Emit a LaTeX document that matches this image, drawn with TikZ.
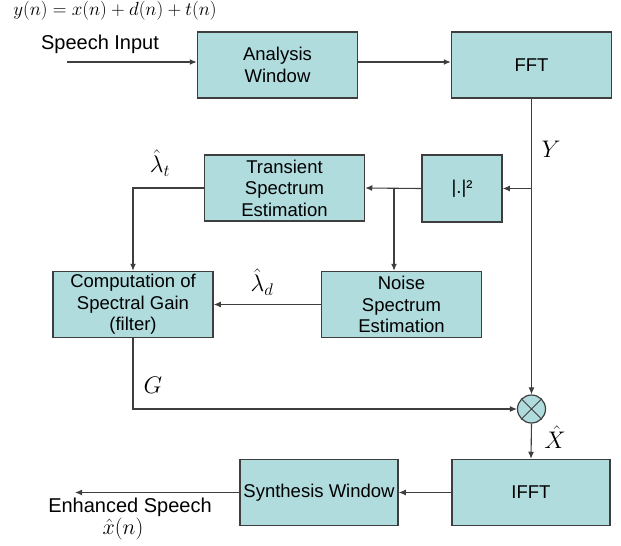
\documentclass[tikz,border=0pt]{standalone}
\usepackage{fix-cm}
\usepackage{fontspec}
\setmainfont{Liberation Sans}
\usetikzlibrary{arrows.meta}
\definecolor{boxfill}{RGB}{176,220,222}
\definecolor{boxedge}{RGB}{62,62,62}
\tikzset{
  blk/.style={draw=boxedge,line width=1.5pt,fill=boxfill,align=center,inner sep=0pt,
    minimum width=160pt,minimum height=66pt,font=\fontsize{18.5}{21.5}\selectfont},
  sig/.style={draw=boxedge,line width=1.1pt,-{Latex[length=7pt,width=6pt]}},
  txt/.style={font=\fontsize{20}{22}\selectfont},
  sym/.style={font=\fontsize{24}{26}\selectfont},
}

\begin{document}
\begin{tikzpicture}[x=1pt,y=-1pt]
  \useasboundingbox (0,0) rectangle (621,546);
  % blocks
  \node[blk] (aw)   at (277.5,65)  {Analysis\\Window};
  \node[blk] (fft)  at (531.5,65)  {FFT};
  \node[blk,minimum width=80pt,minimum height=67pt] (mag) at (462,188.5) {|.|²};
  \node[blk] (tse)  at (284.5,188) {Transient\\Spectrum\\Estimation};
  \node[blk] (nse)  at (401.5,304.5) {Noise\\Spectrum\\Estimation};
  \node[blk] (gain) at (133,304.5) {Computation of\\Spectral Gain\\(filter)};
  \node[draw=boxedge,line width=1.2pt,fill=boxfill,circle,minimum size=28pt,inner sep=0pt] (mult) at (531.5,409) {};
  \draw[boxedge,line width=1pt] (mult.north west) -- (mult.south east)
                                (mult.north east) -- (mult.south west);
  \node[blk,minimum width=158pt] (ifft) at (531,492.5) {IFFT};
  \node[blk,minimum width=158pt] (syn)  at (319,492.5) {Synthesis Window};

  % free ends and branch points
  \coordinate (in)  at (67,62);
  \coordinate (out) at (75,492.5);
  \coordinate (ybr) at (fft.south |- mag.east);
  \coordinate (nbr) at (394,188.5);

  % signal flow
  \draw[sig] (in) -- (in -| aw.west);
  \draw[sig] (in -| aw.east) -- (in -| fft.west);
  \draw[sig] (fft.south) -- (mult.north);
  \draw[sig] (ybr) -- (mag.east);
  \draw[sig] (mag.west) -- (tse.east);
  \draw[sig] (nbr) -- (nbr |- nse.north);
  \draw[sig] (tse.west) -| (gain.north);
  \draw[sig] (nse.west) -- (gain.east);
  \draw[sig] (gain.south) |- (mult.west);
  \draw[sig] (mult.south) -- (ifft.north);
  \draw[sig] (ifft.west) -- (syn.east);
  \draw[sig] (syn.west) -- (out);

  % labels
  \node[font=\fontsize{19}{21}\selectfont] (eq) at (115,11) {$y(n)=x(n)+d(n)+t(n)$};
  \node[txt] (spin) at (100,44) {Speech Input};
  \node[txt] (enh)  at (130,507) {Enhanced Speech};
  \node[font=\fontsize{22}{24}\selectfont] (xh) at (123,529) {$\hat{x}(n)$};
  \node[sym] (ly)  at (551,149) {$Y$};
  \node[sym] (llt) at (160,163) {$\hat{\lambda}_t$};
  \node[sym] (lld) at (262,282) {$\hat{\lambda}_d$};
  \node[sym] (lg)  at (153,385) {$G$};
  \node[sym] (lx)  at (555,437) {$\hat{X}$};
\end{tikzpicture}
\end{document}
